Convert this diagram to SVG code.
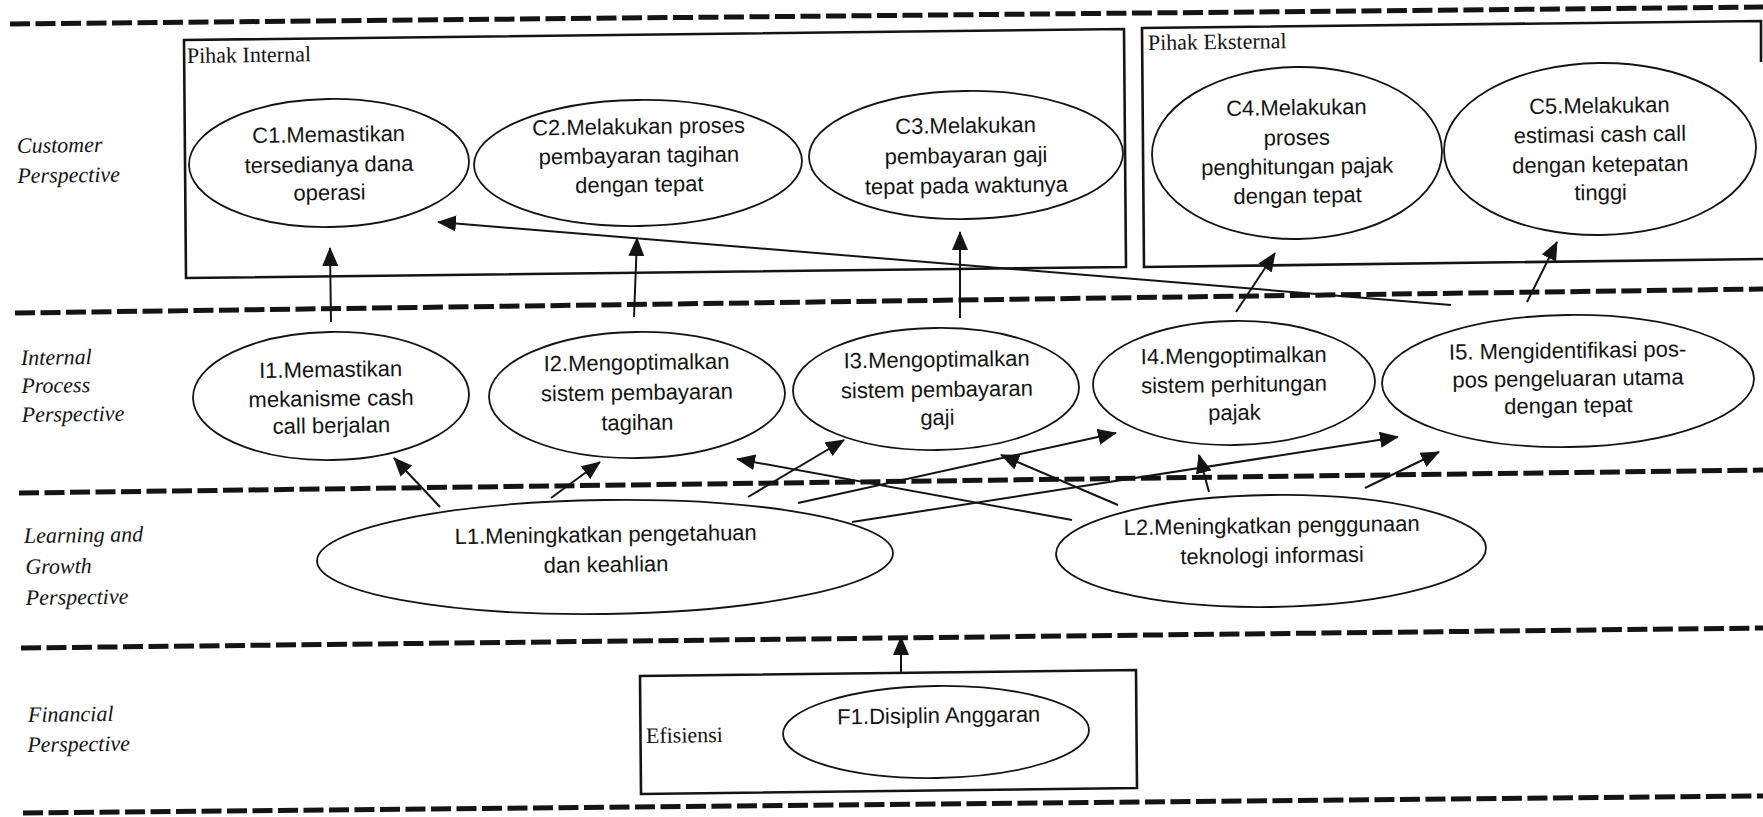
<svg xmlns="http://www.w3.org/2000/svg" width="1763" height="817" viewBox="0 0 1763 817">
<style>
.dash{stroke:#141414;stroke-width:5;stroke-dasharray:20 5.5;fill:none}
.box{fill:none;stroke:#141414;stroke-width:2.6}
.node ellipse{fill:none;stroke:#141414;stroke-width:1.8}
.t{font-family:"Liberation Sans",Arial,sans-serif;font-size:22px;fill:#141414;text-anchor:middle}
.lab{font-family:"Liberation Serif","Times New Roman",serif;font-style:italic;font-size:22px;fill:#141414}
.grp{font-family:"Liberation Serif","Times New Roman",serif;font-size:22px;fill:#141414}
.conn line{stroke:#141414;stroke-width:2;marker-end:url(#ah)}
</style>
<defs>
<marker id="ah" markerUnits="userSpaceOnUse" markerWidth="19" markerHeight="16" refX="18" refY="8" orient="auto"><path d="M0,0 L19,8 L0,16 z" fill="#141414"/></marker>
</defs>
<rect width="1763" height="817" fill="#ffffff"/>
<g id="lanes">
<line class="dash" x1="10" y1="24" x2="1763" y2="7"/>
<line class="dash" x1="15" y1="313" x2="1763" y2="289"/>
<line class="dash" x1="19" y1="493" x2="1763" y2="470"/>
<line class="dash" x1="21" y1="648" x2="1763" y2="628"/>
<line class="dash" x1="23" y1="813" x2="1763" y2="796"/>
</g>
<g id="lane-labels">
<g transform="rotate(-0.8 17 153)"><text class="lab" x="17" y="153">Customer</text><text class="lab" x="17" y="183">Perspective</text></g>
<g transform="rotate(-0.8 21 365)"><text class="lab" x="21" y="365">Internal</text><text class="lab" x="21" y="393">Process</text><text class="lab" x="21" y="422">Perspective</text></g>
<g transform="rotate(-0.8 24 543)"><text class="lab" x="24" y="543">Learning and</text><text class="lab" x="25" y="574">Growth</text><text class="lab" x="25" y="605">Perspective</text></g>
<g transform="rotate(-0.8 28 722)"><text class="lab" x="28" y="722">Financial</text><text class="lab" x="27" y="752">Perspective</text></g>
</g>
<g id="group-internal">
<polygon class="box" points="184,40 1124,29 1126,267 186,278"/>
<text class="grp" x="187" y="63" transform="rotate(-0.8 187 63)">Pihak Internal</text>
</g>
<g id="group-eksternal">
<path class="box" d="M1761,62 L1761,21 L1142,28 L1144,267 L1763,259"/>
<text class="grp" x="1148" y="50" transform="rotate(-0.8 1148 50)">Pihak Eksternal</text>
</g>
<g id="group-efisiensi">
<polygon class="box" points="640,676 1136,670 1137,788 641,794"/>
<text class="grp" x="646" y="743" transform="rotate(-0.8 646 743)">Efisiensi</text>
</g>
<g id="C1" class="node" transform="rotate(-0.8 329 163)">
<ellipse cx="329" cy="163" rx="140" ry="64"/>
<text class="t" x="329" y="142">C1.Memastikan</text><text class="t" x="329" y="172">tersedianya dana</text><text class="t" x="329" y="200">operasi</text>
</g>
<g id="C2" class="node" transform="rotate(-0.8 638 163)">
<ellipse cx="638" cy="163" rx="164" ry="63"/>
<text class="t" x="639" y="134">C2.Melakukan proses</text><text class="t" x="639" y="163">pembayaran tagihan</text><text class="t" x="639" y="192">dengan tepat</text>
</g>
<g id="C3" class="node" transform="rotate(-0.8 966 155)">
<ellipse cx="966" cy="155" rx="157" ry="64"/>
<text class="t" x="966" y="133">C3.Melakukan</text><text class="t" x="966" y="163">pembayaran gaji</text><text class="t" x="966" y="193">tepat pada waktunya</text>
</g>
<g id="C4" class="node" transform="rotate(-0.8 1297 153)">
<ellipse cx="1297" cy="153" rx="145" ry="86"/>
<text class="t" x="1297" y="115">C4.Melakukan</text><text class="t" x="1297" y="145">proses</text><text class="t" x="1297" y="174">penghitungan pajak</text><text class="t" x="1297" y="203">dengan tepat</text>
</g>
<g id="C5" class="node" transform="rotate(-0.8 1600 149)">
<ellipse cx="1600" cy="149" rx="156" ry="86"/>
<text class="t" x="1600" y="113">C5.Melakukan</text><text class="t" x="1600" y="142">estimasi cash call</text><text class="t" x="1600" y="172">dengan ketepatan</text><text class="t" x="1600" y="200">tinggi</text>
</g>
<g id="I1" class="node" transform="rotate(-0.8 331 396)">
<ellipse cx="331" cy="396" rx="138" ry="64"/>
<text class="t" x="331" y="377">I1.Memastikan</text><text class="t" x="331" y="406">mekanisme cash</text><text class="t" x="331" y="433">call berjalan</text>
</g>
<g id="I2" class="node" transform="rotate(-0.8 637 395)">
<ellipse cx="637" cy="395" rx="148" ry="63"/>
<text class="t" x="637" y="370">I2.Mengoptimalkan</text><text class="t" x="637" y="400">sistem pembayaran</text><text class="t" x="637" y="430">tagihan</text>
</g>
<g id="I3" class="node" transform="rotate(-0.8 936 389)">
<ellipse cx="936" cy="389" rx="143" ry="61"/>
<text class="t" x="937" y="367">I3.Mengoptimalkan</text><text class="t" x="937" y="397">sistem pembayaran</text><text class="t" x="937" y="425">gaji</text>
</g>
<g id="I4" class="node" transform="rotate(-0.8 1234 383)">
<ellipse cx="1234" cy="383" rx="141" ry="62"/>
<text class="t" x="1234" y="363">I4.Mengoptimalkan</text><text class="t" x="1234" y="392">sistem perhitungan</text><text class="t" x="1234" y="420">pajak</text>
</g>
<g id="I5" class="node" transform="rotate(-0.8 1568 381)">
<ellipse cx="1568" cy="381" rx="186" ry="66"/>
<text class="t" x="1568" y="358">I5. Mengidentifikasi pos-</text><text class="t" x="1568" y="386">pos pengeluaran utama</text><text class="t" x="1568" y="413">dengan tepat</text>
</g>
<g id="L1" class="node" transform="rotate(-0.8 605 557)">
<ellipse cx="605" cy="557" rx="288" ry="57"/>
<text class="t" x="606" y="542">L1.Meningkatkan pengetahuan</text><text class="t" x="606" y="572">dan keahlian</text>
</g>
<g id="L2" class="node" transform="rotate(-0.8 1271 551)">
<ellipse cx="1271" cy="551" rx="215" ry="56"/>
<text class="t" x="1272" y="533">L2.Meningkatkan penggunaan</text><text class="t" x="1272" y="563">teknologi informasi</text>
</g>
<g id="F1" class="node" transform="rotate(-0.8 936 732)">
<ellipse cx="936" cy="732" rx="153" ry="46"/>
<text class="t" x="939" y="723">F1.Disiplin Anggaran</text>
</g>
<g id="connectors" class="conn">
<line x1="331" y1="322" x2="330" y2="248"/>
<line x1="634" y1="317" x2="637" y2="238"/>
<line x1="960" y1="318" x2="960" y2="232"/>
<line x1="1236" y1="312" x2="1275" y2="253"/>
<line x1="1527" y1="302" x2="1557" y2="242"/>
<line x1="1451" y1="305" x2="438" y2="222"/>
<line x1="440" y1="507" x2="394" y2="458"/>
<line x1="551" y1="498" x2="600" y2="462"/>
<line x1="748" y1="497" x2="844" y2="440"/>
<line x1="798" y1="503" x2="1116" y2="433"/>
<line x1="852" y1="522" x2="1398" y2="437"/>
<line x1="1072" y1="520" x2="737" y2="459"/>
<line x1="1118" y1="505" x2="1001" y2="455"/>
<line x1="1209" y1="492" x2="1199" y2="455"/>
<line x1="1365" y1="488" x2="1439" y2="452"/>
<line x1="901" y1="673" x2="901" y2="637"/>
</g>
</svg>
